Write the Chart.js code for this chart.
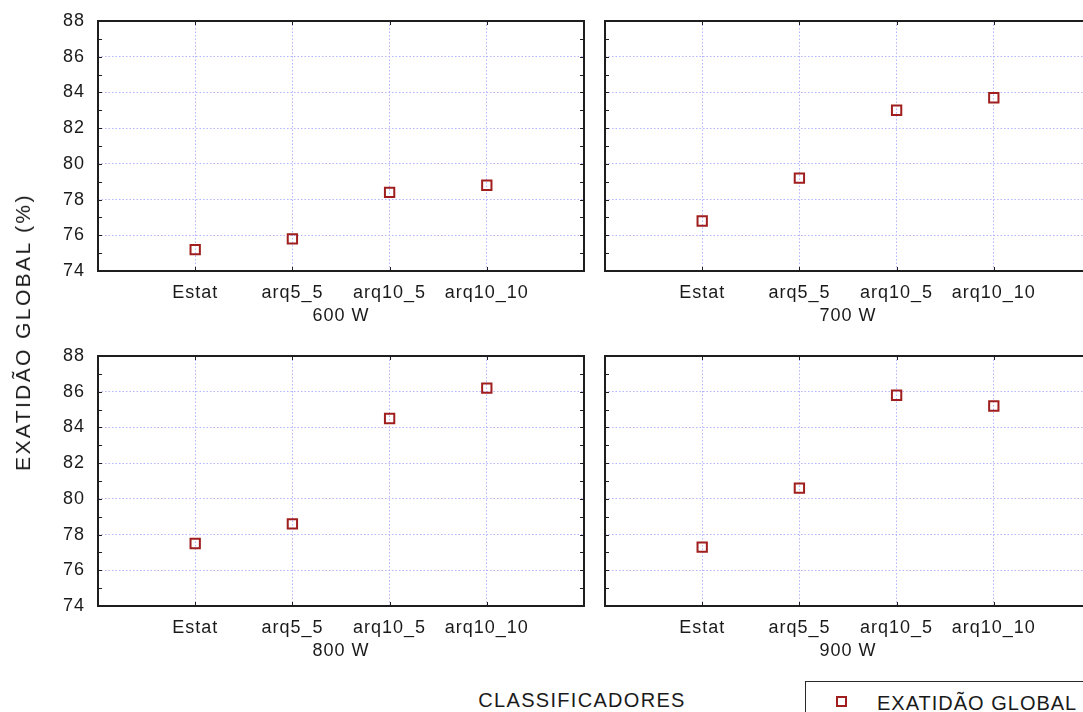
<!DOCTYPE html>
<html>
<head>
<meta charset="utf-8">
<script src="https://cdn.jsdelivr.net/npm/chart.js@4/dist/chart.umd.min.js"></script>
<style>
  html, body { margin: 0; padding: 0; background: #fff; overflow: hidden; }
  #wrap { position: relative; width: 1100px; height: 712px; overflow: hidden; }
  #wrap canvas { position: absolute; }
  .lbl { position: absolute; font-family: "Liberation Sans", Arial, sans-serif; color: #1a1a1a; white-space: nowrap; }
  #ytitle { font-size: 21px; letter-spacing: 2.4px; left: 23px; top: 332px; transform: translate(-50%, -50%) rotate(-90deg); }
  #xtitle { font-size: 20px; letter-spacing: 1.3px; left: 582px; top: 700px; transform: translate(-50%, -50%); }
  #legend { position: absolute; left: 805px; top: 681px; width: 400px; height: 100px; border: 1.5px solid #2a2a2a; box-sizing: border-box; }
  #legmark { position: absolute; left: 836px; top: 696px; width: 7px; height: 7px; border: 2px solid #a01e1e; }
  #legtext { font-size: 20px; letter-spacing: 1px; left: 877px; top: 703px; transform: translateY(-50%); }
</style>
</head>
<body>
<div id="wrap">
  <canvas id="c600"></canvas>
  <canvas id="c700"></canvas>
  <canvas id="c800"></canvas>
  <canvas id="c900"></canvas>
  <div id="ytitle" class="lbl">EXATIDÃO GLOBAL (%)</div>
  <div id="xtitle" class="lbl">CLASSIFICADORES</div>
  <div id="legend"></div>
  <div id="legmark"></div>
  <div id="legtext" class="lbl">EXATIDÃO GLOBAL</div>
</div>
<script>
// Classifiers on the x axis
const categories = ['Estat', 'arq5_5', 'arq10_5', 'arq10_10'];
// Power level shown under each panel
const panelTitles = ['600 W', '700 W', '800 W', '900 W'];
// Overall accuracy (%) per classifier, one array per power level
const values600 = [75.2, 75.8, 78.4, 78.8];
const values700 = [76.8, 79.2, 83.0, 83.7];
const values800 = [77.5, 78.6, 84.5, 86.2];
const values900 = [77.3, 80.6, 85.8, 85.2];
// Y axis range and labelled ticks
const yMin = 74, yMax = 88, yStep = 2;

const FONT = '"Liberation Sans", Arial, sans-serif';
const INK = '#1a1a1a';
const MARK = '#a01e1e';
const GRID = '#b4b4ff';

// Frame with inward tick marks on all four sides
const framePlugin = {
  id: 'frame',
  beforeDraw(chart) { chart.ctx.letterSpacing = '1px'; },
  afterDraw(chart) {
    const { ctx, chartArea: a, scales: { x, y } } = chart;
    ctx.save();
    ctx.letterSpacing = '0px';
    ctx.setLineDash([]);
    ctx.strokeStyle = '#1e1e1e';
    ctx.lineWidth = 1;
    ctx.beginPath();
    for (let v = yMin; v <= yMax; v++) {
      const py = Math.round(y.getPixelForValue(v)) + 0.5;
      ctx.moveTo(a.left, py); ctx.lineTo(a.left + 4, py);
      ctx.moveTo(a.right, py); ctx.lineTo(a.right - 4, py);
    }
    for (let i = 1; i <= categories.length; i++) {
      const px = Math.round(x.getPixelForValue(i)) + 0.5;
      ctx.moveTo(px, a.top); ctx.lineTo(px, a.top + 4);
      ctx.moveTo(px, a.bottom); ctx.lineTo(px, a.bottom - 4);
    }
    ctx.stroke();
    ctx.lineWidth = 2;
    ctx.strokeRect(a.left, a.top, a.right - a.left, a.bottom - a.top);
    ctx.restore();
  }
};

function makePanel(id, values, title, showY, box) {
  const cv = document.getElementById(id);
  cv.style.left = box.x + 'px';
  cv.style.top = box.y + 'px';
  cv.width = box.w; cv.height = box.h;
  cv.style.width = box.w + 'px'; cv.style.height = box.h + 'px';
  return new Chart(cv, {
    type: 'scatter',
    data: {
      datasets: [{
        label: 'EXATIDÃO GLOBAL',
        data: values.map((v, i) => ({ x: i + 1, y: v })),
        pointStyle: 'rect',
        pointRadius: 6.6,
        pointHoverRadius: 6.6,
        pointBorderWidth: 2,
        pointBorderColor: MARK,
        pointBackgroundColor: 'rgba(0,0,0,0)',
        showLine: false
      }]
    },
    options: {
      responsive: false,
      animation: false,
      devicePixelRatio: 1,
      layout: { padding: { left: box.pl, top: 21, right: box.pr, bottom: 0 } },
      plugins: { legend: { display: false }, tooltip: { enabled: false } },
      scales: {
        x: {
          type: 'linear', min: 0, max: categories.length + 1,
          afterBuildTicks(s) { s.ticks = [0, 1, 2, 3, 4, 5].map(v => ({ value: v })); },
          afterFit(s) { s.height = 64; s.paddingLeft = 0; s.paddingRight = 0; },
          border: { display: false, dash: [1.5, 2] },
          grid: {
            drawTicks: false, lineWidth: 1,
            color: c => (c.tick && c.tick.value >= 1 && c.tick.value <= categories.length) ? GRID : 'rgba(0,0,0,0)'
          },
          ticks: {
            autoSkip: false, maxRotation: 0, padding: 11, color: INK,
            font: { family: FONT, size: 18 },
            callback: v => categories[v - 1] || ''
          },
          title: {
            display: true, text: title, color: INK,
            font: { family: FONT, size: 18 }, padding: { top: 8, bottom: 8 }
          }
        },
        y: {
          min: yMin, max: yMax,
          afterBuildTicks(s) {
            const t = [];
            for (let v = yMin; v <= yMax; v += yStep) t.push({ value: v });
            s.ticks = t;
          },
          afterFit(s) { s.width = showY ? 98 : 0; s.paddingTop = 0; s.paddingBottom = 0; },
          border: { display: false, dash: [1.5, 2] },
          grid: {
            drawTicks: false, lineWidth: 1,
            color: c => (c.tick && c.tick.value > yMin && c.tick.value < yMax) ? GRID : 'rgba(0,0,0,0)'
          },
          ticks: {
            display: showY, padding: 13, color: INK,
            font: { family: FONT, size: 18 }
          }
        }
      }
    },
    plugins: [framePlugin]
  });
}

makePanel('c600', values600, panelTitles[0], true,  { x: 0,   y: 0,   w: 600, h: 335, pl: 0,  pr: 16 });
makePanel('c700', values700, panelTitles[1], false, { x: 590, y: 0,   w: 510, h: 335, pl: 15, pr: 9 });
makePanel('c800', values800, panelTitles[2], true,  { x: 0,   y: 335, w: 600, h: 335, pl: 0,  pr: 16 });
makePanel('c900', values900, panelTitles[3], false, { x: 590, y: 335, w: 510, h: 335, pl: 15, pr: 9 });
</script>
</body>
</html>
